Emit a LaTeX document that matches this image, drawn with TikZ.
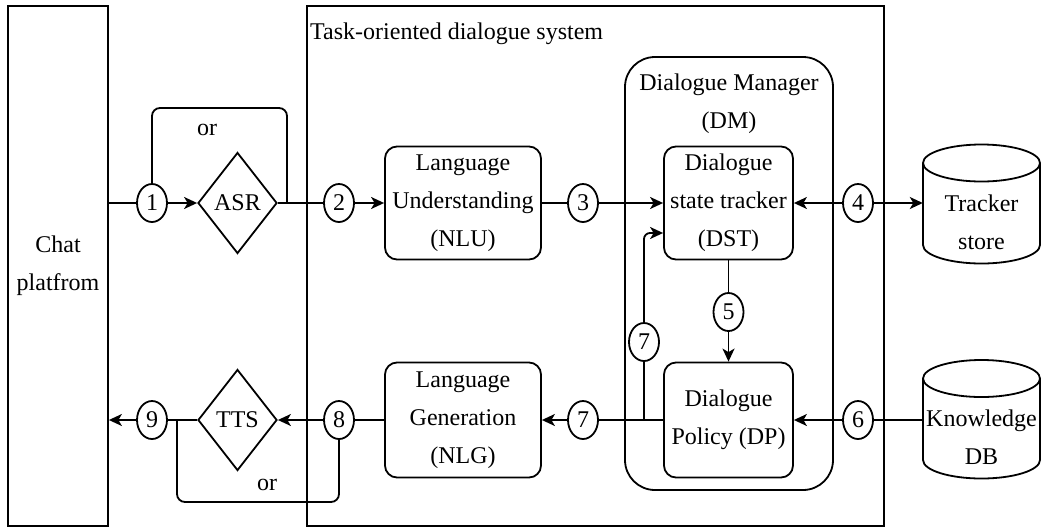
\documentclass[tikz,border=0pt]{standalone}
\usepackage{fontspec}
\setmainfont{Liberation Serif}
\usetikzlibrary{shapes.geometric,arrows.meta}
\begin{document}
\begin{tikzpicture}[x=1pt,y=-1pt,
  every node/.style={font=\fontsize{24}{38}\selectfont},
  ln/.style={line width=1.8pt},
  arr/.style={ln,-{Stealth[length=13pt,width=12pt,inset=3.5pt]}},
  num/.style={ellipse,draw,line width=1.8pt,minimum width=30pt,minimum height=38pt,inner sep=0pt},
  proc/.style={rectangle,draw,line width=1.8pt,rounded corners=12pt,align=center,inner sep=0pt},
  dia/.style={diamond,draw,line width=1.8pt,minimum width=79pt,minimum height=101pt,inner sep=1pt},
  frame/.style={rectangle,draw,line width=1.8pt,inner sep=0pt},
  plain/.style={align=center,inner sep=0pt}]
\useasboundingbox (0,0) rectangle (1041,528);

% containers
\node[frame,minimum width=100pt,minimum height=520pt,align=center] (chat) at (58,266) {Chat\\platfrom};
\draw[ln] (307,6) rectangle (884,526);
\node[plain,anchor=west] (tasklbl) at (310,34) {Task-oriented dialogue system};
\draw[ln,rounded corners=30pt] (625,57) rectangle (833,490);
\node[plain] (dmtitle) at (729,104) {Dialogue Manager\\(DM)};

% cylinders
\draw[ln] (981.5,163) ellipse [x radius=58.5pt, y radius=18.5pt];
\draw[ln] (923,163) -- (923,245) arc[start angle=180,end angle=360,x radius=58.5pt,y radius=18.5pt] -- (1040,163);
\node[plain,minimum width=117pt] (tracker) at (981.5,222) {Tracker\\store};
\draw[ln] (981.5,378.5) ellipse [x radius=58.5pt, y radius=18.5pt];
\draw[ln] (923,378.5) -- (923,460) arc[start angle=180,end angle=360,x radius=58.5pt,y radius=18.5pt] -- (1040,378.5);
\node[plain,minimum width=117pt] (kdb) at (981.5,437) {Knowledge\\DB};

% process nodes
\node[proc,minimum width=156pt,minimum height=113pt] (nlu) at (463,203) {Language\\Understanding\\(NLU)};
\node[proc,minimum width=156pt,minimum height=115pt] (nlg) at (463,420) {Language\\Generation\\(NLG)};
\node[proc,minimum width=129pt,minimum height=113pt] (dst) at (728.5,203) {Dialogue\\state tracker\\(DST)};
\node[proc,minimum width=129pt,minimum height=115pt] (dp) at (728.5,420) {Dialogue\\Policy (DP)};
\node[dia] (asr) at (237.5,203) {ASR};
\node[dia] (tts) at (237.5,420) {TTS};

% numbered markers
\node[num] (c1) at (152,203) {1};
\node[num] (c2) at (339,203) {2};
\node[num] (c3) at (583,203) {3};
\node[num] (c4) at (858,203) {4};
\node[num] (c5) at (728.5,312) {5};
\node[num] (c6) at (858,420) {6};
\node[num] (c7v) at (644,342) {7};
\node[num] (c7h) at (583,420) {7};
\node[num] (c8) at (339,420) {8};
\node[num] (c9) at (152,420) {9};

% top flow
\draw[ln] (chat.east |- c1) -- (c1);
\draw[arr] (c1) -- (asr.west);
\draw[ln] (asr.east) -- (c2);
\draw[arr] (c2) -- (nlu.west);
\draw[ln] (nlu.east) -- (c3);
\draw[arr] (c3) -- (dst.west);
\draw[arr] (c4) -- (dst.east);
\draw[arr] (c4) -- (c4 -| tracker.west);
\coordinate (orTopR) at (287,203);
\draw[ln,rounded corners=8pt] (c1.north) -- (152,108) -- (287,108) -- (orTopR);
\node[plain] (ortop) at (207,130) {or};

% middle
\draw[ln] (dst.south) -- (c5);
\draw[arr] (c5) -- (dp.north);
\draw[ln] (c6 -| kdb.west) -- (c6);
\draw[arr] (c6) -- (dp.east);
\coordinate (j7) at (c7v |- c7h);
\draw[ln] (j7) -- (c7v);
\draw[arr,rounded corners=6pt] (c7v.north) -- (644,233) -- (dst.west |- 0,233);

% bottom flow
\draw[ln] (dp.west) -- (c7h);
\draw[arr] (c7h) -- (nlg.east);
\draw[ln] (nlg.west) -- (c8);
\draw[arr] (c8) -- (tts.east);
\draw[ln] (tts.west) -- (c9);
\draw[arr] (c9) -- (chat.east |- c9);
\coordinate (orBotL) at (177,420);
\draw[ln,rounded corners=8pt] (c8.south) -- (339,502) -- (177,502) -- (orBotL);
\node[plain] (orbot) at (267,485) {or};
\end{tikzpicture}
\end{document}
